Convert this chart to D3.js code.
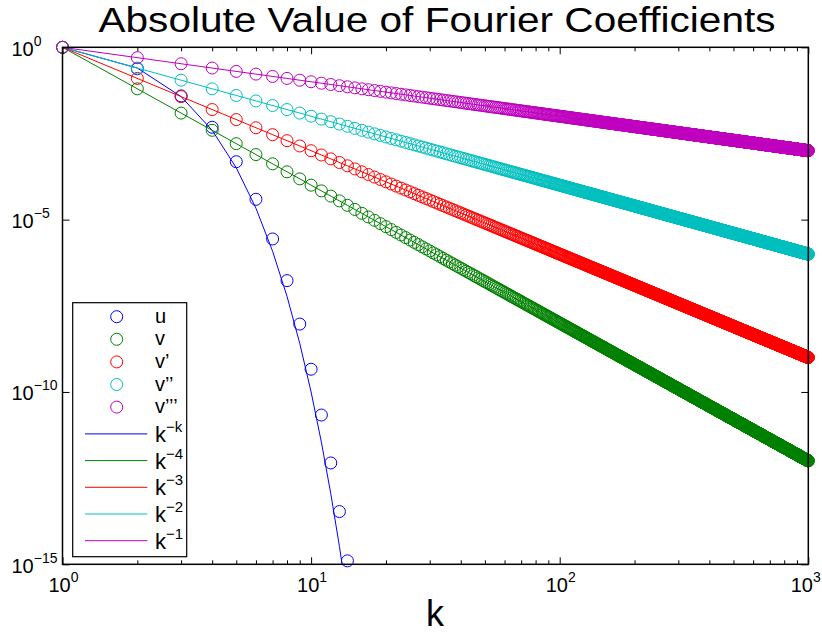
<!DOCTYPE html>
<html>
<head>
<meta charset="utf-8">
<script src="https://cdn.jsdelivr.net/npm/d3@7"></script>
<style>
  html, body { margin: 0; padding: 0; background: #fff; }
  svg { display: block; font-family: "Liberation Sans", Arial, Helvetica, sans-serif; }
</style>
</head>
<body>
<svg id="chart" width="822" height="634"></svg>
<script>
// ---------------- data ----------------
const title = "Absolute Value of Fourier Coefficients";
const xLabel = "k";
const kMax = 1000;                               // k = 1 .. 1000
// |u_k|, k = 1..14
const uK = [1, 2, 3, 4, 5, 6, 7, 8, 9, 10, 11, 12, 13, 14];
const uValues = [1, 2.38e-1, 3.89e-2, 4.79e-3, 4.79e-4, 3.89e-5, 2.75e-6, 1.70e-7,
                 9.33e-9, 4.57e-10, 2.14e-11, 8.71e-13, 3.39e-14, 1.26e-15];
const seriesNames = ["v", "v\u2019", "v\u2019\u2019", "v\u2019\u2019\u2019"];
const seriesExponents = [-4, -3, -2, -1];
const lineLabels = ["\u2212k", "\u22124", "\u22123", "\u22122", "\u22121"];
const xTickExps = [0, 1, 2, 3];
const yTickExps = [0, -5, -10, -15];

const colors = {
  u: "#0000ff", v: "#008000", v1: "#ff0000", v2: "#00bfbf", v3: "#bf00bf"
};
const seriesColors = [colors.v, colors.v1, colors.v2, colors.v3];

// ---------------- layout ----------------
const L = 62.5, R = 808.3, T = 47.3, B = 564.3;
const W = 822;
const svg = d3.select("#chart");
const x = d3.scaleLog().domain([1, 1000]).range([L, R]);
const y = d3.scaleLog().domain([1e-15, 1]).range([B, T]);

svg.append("defs").append("clipPath").attr("id", "clip")
  .append("rect").attr("x", L).attr("y", T).attr("width", R - L).attr("height", B - T);

const ks = d3.range(1, kMax + 1);

// ---------------- circles ----------------
const mr = 6;
const gm = svg.append("g").attr("fill", "none").attr("stroke-width", 1);
gm.selectAll("circle.u").data(uK.map((k, i) => [k, uValues[i]])).join("circle")
  .attr("class", "u").attr("cx", d => x(d[0])).attr("cy", d => y(d[1])).attr("r", mr)
  .attr("stroke", colors.u);
seriesExponents.forEach((p, si) => {
  gm.append("g").selectAll("circle").data(ks.map(k => [k, Math.pow(k, p)])).join("circle")
    .attr("cx", d => x(d[0])).attr("cy", d => y(d[1])).attr("r", mr)
    .attr("stroke", seriesColors[si]);
});

// ---------------- lines ----------------
const line = d3.line().x(d => x(d[0])).y(d => y(d[1]));
const gl = svg.append("g").attr("clip-path", "url(#clip)").attr("fill", "none").attr("stroke-width", 1);
const kk = d3.range(1, 21).map(k => [k, Math.pow(k, -k)]);
gl.append("path").attr("d", line(kk)).attr("stroke", colors.u);
seriesExponents.forEach((p, si) => {
  gl.append("path").attr("d", line([[1, 1], [kMax, Math.pow(kMax, p)]])).attr("stroke", seriesColors[si]);
});

// ---------------- axes ----------------
const minors = [];
xTickExps.slice(0, -1).forEach(e => { for (let m = 2; m <= 9; m++) minors.push(m * Math.pow(10, e)); });
const majorsX = xTickExps.map(e => Math.pow(10, e));
const majorsY = yTickExps.map(e => Math.pow(10, e));

function styleAxis(g) {
  g.select(".domain").remove();
  g.selectAll("line").attr("stroke", "#000").attr("stroke-width", 1);
}
svg.append("g").attr("transform", `translate(0,${B})`)
  .call(d3.axisBottom(x).tickValues(minors).tickSize(-4).tickFormat("")).call(styleAxis);
svg.append("g").attr("transform", `translate(0,${B})`)
  .call(d3.axisBottom(x).tickValues(majorsX).tickSize(-7).tickFormat("")).call(styleAxis);
svg.append("g").attr("transform", `translate(0,${T})`)
  .call(d3.axisTop(x).tickValues(minors).tickSize(-4).tickFormat("")).call(styleAxis);
svg.append("g").attr("transform", `translate(0,${T})`)
  .call(d3.axisTop(x).tickValues(majorsX).tickSize(-7).tickFormat("")).call(styleAxis);
svg.append("g").attr("transform", `translate(${L},0)`)
  .call(d3.axisLeft(y).tickValues(majorsY).tickSize(-7).tickFormat("")).call(styleAxis);
svg.append("g").attr("transform", `translate(${R},0)`)
  .call(d3.axisRight(y).tickValues(majorsY).tickSize(-7).tickFormat("")).call(styleAxis);

svg.append("rect").attr("x", L).attr("y", T).attr("width", R - L).attr("height", B - T)
  .attr("fill", "none").attr("stroke", "#000").attr("stroke-width", 1.5);

// tick labels
function powLabel(sel, exp) {
  sel.append("tspan").text("10");
  sel.append("tspan").attr("font-size", 14).attr("dy", -10)
    .text(exp < 0 ? "\u2212" + (-exp) : String(exp));
}
xTickExps.forEach(e => {
  const t = svg.append("text").attr("x", x(Math.pow(10, e)) + 1).attr("y", 592)
    .attr("text-anchor", "middle").attr("font-size", 20).attr("fill", "#000");
  powLabel(t, e);
  // keep the last label inside the page
  const bb = t.node().getBBox();
  if (bb.x + bb.width > W - 1) t.attr("x", +t.attr("x") - (bb.x + bb.width - (W - 1)));
});
yTickExps.forEach(e => {
  const t = svg.append("text").attr("x", 11.5).attr("y", y(Math.pow(10, e)) + 8.5)
    .attr("font-size", 20).attr("fill", "#000");
  powLabel(t, e);
});

// title & x label
svg.append("text").attr("x", 437).attr("y", 32).attr("text-anchor", "middle")
  .attr("font-size", 35).attr("textLength", 677).attr("lengthAdjust", "spacingAndGlyphs")
  .text(title);
svg.append("text").attr("x", 435).attr("y", 626).attr("text-anchor", "middle")
  .attr("font-size", 36).text(xLabel);

// ---------------- legend ----------------
const lg = svg.append("g");
lg.append("rect").attr("x", 72.7).attr("y", 302.7).attr("width", 114).attr("height", 254)
  .attr("fill", "#fff").attr("stroke", "#000").attr("stroke-width", 1.2);
const markerEntries = [{ name: "u", color: colors.u }].concat(
  seriesNames.map((n, i) => ({ name: n, color: seriesColors[i] })));
const mY = [316.7, 339.3, 361.9, 384.5, 407.1];
markerEntries.forEach((d, i) => {
  lg.append("circle").attr("cx", 116.7).attr("cy", mY[i]).attr("r", mr)
    .attr("fill", "none").attr("stroke", d.color);
  lg.append("text").attr("x", 155).attr("y", mY[i] + 6).attr("font-size", 20).text(d.name);
});
const lineColors = [colors.u].concat(seriesColors);
const lY = [433.9, 460.6, 487.3, 514.0, 540.7];
lineLabels.forEach((s, i) => {
  lg.append("line").attr("x1", 85).attr("x2", 147.3).attr("y1", lY[i]).attr("y2", lY[i])
    .attr("stroke", lineColors[i]).attr("stroke-width", 1);
  const t = lg.append("text").attr("x", 155).attr("y", lY[i] + 8).attr("font-size", 22);
  t.append("tspan").text("k");
  t.append("tspan").attr("font-size", 15).attr("dy", -10).text(s);
});
</script>
</body>
</html>
